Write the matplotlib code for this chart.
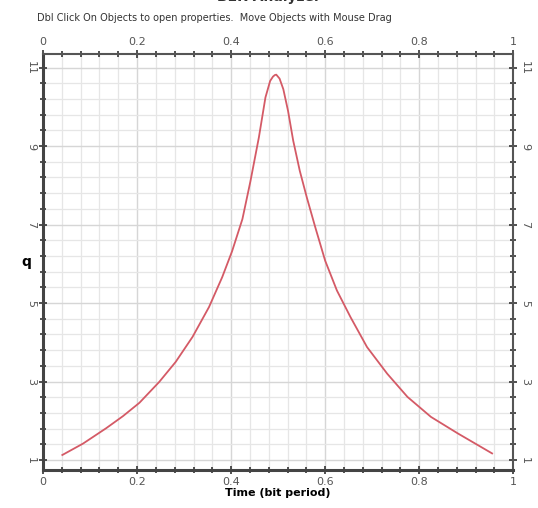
import numpy as np
import matplotlib
matplotlib.use("Agg")
import matplotlib.pyplot as plt
from matplotlib.ticker import FixedLocator, MultipleLocator

# Q vs time
t = [0.041, 0.085, 0.134, 0.170, 0.205, 0.247, 0.282, 0.318, 0.353, 0.381,
     0.402, 0.424, 0.441, 0.459, 0.473, 0.483, 0.489, 0.493, 0.496, 0.503,
     0.511, 0.521, 0.532, 0.546, 0.561, 0.579, 0.600, 0.625, 0.654, 0.689,
     0.732, 0.775, 0.825, 0.882, 0.925, 0.955]
q = [1.13, 1.42, 1.81, 2.12, 2.46, 2.99, 3.50, 4.14, 4.90, 5.66,
     6.32, 7.14, 8.10, 9.22, 10.24, 10.66, 10.77, 10.81, 10.82, 10.72,
     10.45, 9.90, 9.14, 8.37, 7.69, 6.93, 6.08, 5.32, 4.64, 3.88,
     3.20, 2.61, 2.10, 1.68, 1.38, 1.17]

x_ticks = [0, 0.2, 0.4, 0.6, 0.8, 1]
x_labels = ['0', '0.2', '0.4', '0.6', '0.8', '1']
y_ticks = [1, 3, 5, 7, 9, 11]

fig = plt.figure(figsize=(5.38, 5.08), dpi=100)
ax = fig.add_axes([0.080, 0.075, 0.874, 0.819])

ax.plot(t, q, color='#d45a66', lw=1.3)

ax.set_xlim(0, 1)
ax.set_ylim(0.75, 11.35)
ax.set_xticks(x_ticks)
ax.set_xticklabels(x_labels)
ax.xaxis.set_minor_locator(MultipleLocator(0.04))
ax.set_yticks(y_ticks)
ax.set_yticklabels([str(v) for v in y_ticks], rotation=-90, va='center')
ax.yaxis.set_minor_locator(FixedLocator(np.arange(1, 11.01, 0.4)))

ax.grid(True, which='minor', color='#e6e6e6', lw=0.9)
ax.grid(True, which='major', color='#d6d6d6', lw=1.0)
ax.set_axisbelow(True)

ax.tick_params(which='both', top=True, right=True, labeltop=True, labelright=True,
               direction='inout', color='#333333', labelcolor='#555555', labelsize=8,
               pad=2)
ax.tick_params(which='major', length=6, width=1.2)
ax.tick_params(which='minor', length=4, width=1.2)
for side in ['left', 'bottom']:
    ax.spines[side].set_linewidth(2.2)
    ax.spines[side].set_color('#444444')
for side in ['right', 'top']:
    ax.spines[side].set_linewidth(1.5)
    ax.spines[side].set_color('#555555')

ax.set_xlabel('Time (bit period)', fontsize=8, fontweight='bold', labelpad=1)
ax.set_ylabel('q', fontsize=10, fontweight='bold', rotation=0, va='center', ha='center')
ax.yaxis.set_label_coords(-0.035, 0.5)

fig.text(0.068, 0.965, 'Dbl Click On Objects to open properties.  Move Objects with Mouse Drag',
         fontsize=7, color='#333333', va='center')
fig.text(0.5, 1.005, 'BER Analyzer', fontsize=10, fontweight='bold', color='#333333',
         ha='center', va='center')

fig.savefig('out.png', dpi=100)
